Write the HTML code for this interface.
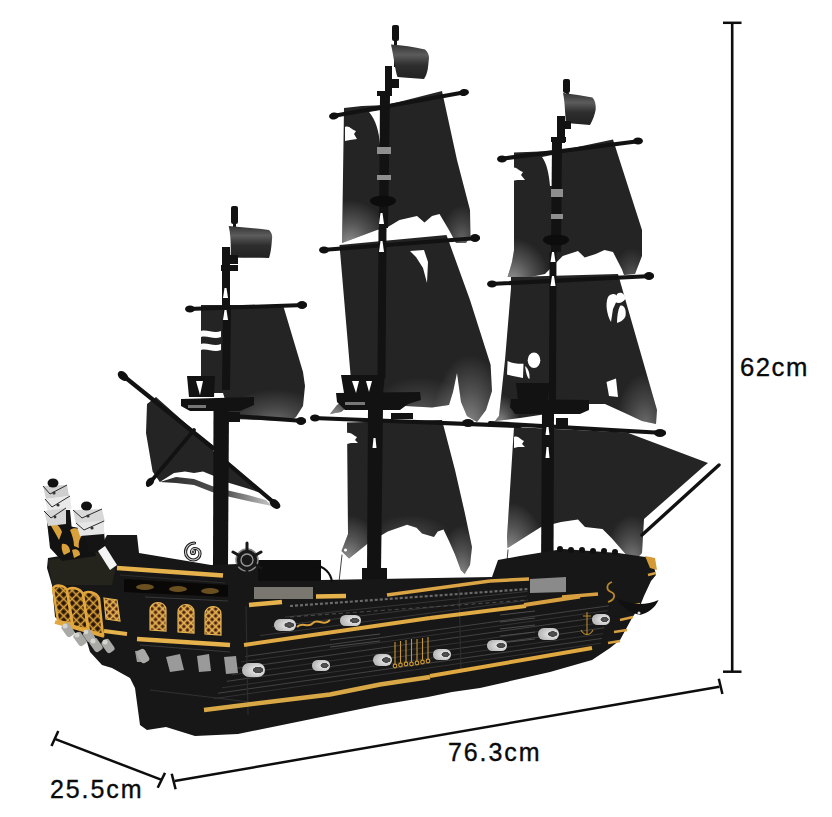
<!DOCTYPE html>
<html><head><meta charset="utf-8">
<style>
html,body{margin:0;padding:0;background:#fff;}
body{width:832px;height:817px;overflow:hidden;position:relative;}
svg{position:absolute;left:0;top:0;}
.t{position:absolute;font-family:"Liberation Sans",sans-serif;color:#0a0a0a;font-size:25px;letter-spacing:1.9px;white-space:nowrap;line-height:1;-webkit-text-stroke:0.35px #0a0a0a;}
</style></head>
<body>
<svg width="832" height="817" viewBox="0 0 832 817">
<defs>
<linearGradient id="gV" x1="0" y1="0" x2="0" y2="1">
<stop offset="0" stop-color="#fff" stop-opacity="0"/><stop offset="0.5" stop-color="#fff" stop-opacity="0.1"/><stop offset="1" stop-color="#fff" stop-opacity="0.42"/>
</linearGradient>
<radialGradient id="gR" cx="0.5" cy="0.5" r="0.5">
<stop offset="0" stop-color="#fff" stop-opacity="0.5"/><stop offset="0.5" stop-color="#fff" stop-opacity="0.22"/><stop offset="1" stop-color="#fff" stop-opacity="0"/>
</radialGradient>
<linearGradient id="gFlag" x1="0" y1="0" x2="0" y2="1">
<stop offset="0" stop-color="#333"/><stop offset="0.3" stop-color="#5c5c5c"/><stop offset="0.6" stop-color="#2e2e2e"/><stop offset="1" stop-color="#222"/>
</linearGradient>
<linearGradient id="gFoot" x1="0" y1="0" x2="1" y2="0">
<stop offset="0" stop-color="#2a2a2a"/><stop offset="0.6" stop-color="#555"/><stop offset="1" stop-color="#c8c8c8"/>
</linearGradient>
<linearGradient id="gGold" x1="0" y1="0" x2="0" y2="1">
<stop offset="0" stop-color="#f3c56a"/><stop offset="1" stop-color="#c98f2a"/>
</linearGradient>
<radialGradient id="gCan" cx="0.7" cy="0.5" r="0.6">
<stop offset="0" stop-color="#555"/><stop offset="0.35" stop-color="#444"/><stop offset="0.4" stop-color="#ddd"/><stop offset="1" stop-color="#bcbcbc"/>
</radialGradient>
<pattern id="lat" width="5" height="5" patternUnits="userSpaceOnUse" patternTransform="rotate(45)">
<rect width="5" height="5" fill="#e7b550"/><rect x="1.4" y="1.4" width="3.2" height="3.2" fill="#4a1e10"/>
</pattern>
<pattern id="lat2" width="6" height="6" patternUnits="userSpaceOnUse" patternTransform="rotate(45)">
<rect width="6" height="6" fill="#d9a13a"/><rect x="1.3" y="1.3" width="4.4" height="4.4" fill="#2a1608"/>
</pattern>
</defs>
<!-- ===== SAILS ===== -->
<defs>
<clipPath id="cB1"><path id="pB1" d="M344,108 L362,106 L387,105 L442,91 L457,160 L470,210 L470.5,236 L466,243 L456,243 L449,230 L439.5,214 L432,216 L424.5,222.5 L417,216 L399.5,220 L387,227.5 L377,230 L342,243 Z"/></clipPath>
<clipPath id="cB2"><path id="pB2" d="M339.5,245 L446.5,235 L470,300 L490.6,364.7 L492,391 L486,410 L477,422 L467,416 L461,402 L457,373 L453,392 L449,405 L432,407.5 L387,405 L350,405 L341,412 L330,414 L337,405 L350,397 L352,392 Z"/></clipPath>
<clipPath id="cB3"><path id="pB3" d="M347,422.5 L442,420 L455,470 L464.6,512 L472,547 L470,565 L464.6,574 L460.8,570 L455,554.6 L449,541 L443.5,529.6 L437.7,531.5 L434,537 L422,533.5 L416.5,527.7 L407,524.8 L387.7,531.5 L368.5,543 L349,558.5 L341.5,551 L348,534 Z"/></clipPath>
<clipPath id="cC1"><path id="pC1" d="M514,152.6 L540,151.5 L556,151.5 L613,139.4 L642,230 L642,256 L635,274 L624,275 L622,269.6 L613,252 L604.5,250 L595.7,254 L584.7,257.5 L578,251 L562.7,256 L545,274 L530,277 L507.6,277 L512,262 L514,250 Z"/></clipPath>
<clipPath id="cC2"><path id="pC2" d="M511,277 L618,274 L657,410 L656,424 L642,421 L627,414 L605,404 L585,404 L560,412 L520,418 L504,420 L495,421 L499,416 L505,360 L511,288 Z"/></clipPath>
<clipPath id="cC3"><path id="pC3" d="M514,427 L627,432.6 L708,463 L703,467 L644,519 L642,553 L633,562.5 L611.5,538 L602.5,529 L585,527 L578,519.5 L561,522 L541,527 L507.5,548 L507,537 Z"/></clipPath>
<clipPath id="cA1"><path id="pA1" d="M201,305 L283,305 L303,372 L305,386 L303,406 L296,417 L290,421 L231,419 L223,393 L201,393 Z"/></clipPath>
</defs>
<g fill="#242424">
<path d="M344,108 L362,106 L387,105 L442,91 L457,160 L470,210 L470.5,236 L466,243 L456,243 L449,230 L439.5,214 L432,216 L424.5,222.5 L417,216 L399.5,220 L387,227.5 L377,230 L342,243 Z"/><path d="M339.5,245 L446.5,235 L470,300 L490.6,364.7 L492,391 L486,410 L477,422 L467,416 L461,402 L457,373 L453,392 L449,405 L432,407.5 L387,405 L350,405 L341,412 L330,414 L337,405 L350,397 L352,392 Z"/><path d="M347,422.5 L442,420 L455,470 L464.6,512 L472,547 L470,565 L464.6,574 L460.8,570 L455,554.6 L449,541 L443.5,529.6 L437.7,531.5 L434,537 L422,533.5 L416.5,527.7 L407,524.8 L387.7,531.5 L368.5,543 L349,558.5 L341.5,551 L348,534 Z"/>
<path d="M514,152.6 L540,151.5 L556,151.5 L613,139.4 L642,230 L642,256 L635,274 L624,275 L622,269.6 L613,252 L604.5,250 L595.7,254 L584.7,257.5 L578,251 L562.7,256 L545,274 L530,277 L507.6,277 L512,262 L514,250 Z"/><path d="M511,277 L618,274 L657,410 L656,424 L642,421 L627,414 L605,404 L585,404 L560,412 L520,418 L504,420 L495,421 L499,416 L505,360 L511,288 Z"/><path d="M514,427 L627,432.6 L708,463 L703,467 L644,519 L642,553 L633,562.5 L611.5,538 L602.5,529 L585,527 L578,519.5 L561,522 L541,527 L507.5,548 L507,537 Z"/>
<path d="M201,305 L283,305 L303,372 L305,386 L303,406 L296,417 L290,421 L231,419 L223,393 L201,393 Z"/>
<!-- spanker body -->
<path d="M156,397 L147,404 L146,433 L152.6,471.5 L159.8,482 L174,473 L185,471.5 L194,473 L203,471.5 L214,476 L214,452 L211,446 Z"/>
<path d="M226,462 L264,494 L246,488 L226,482 Z"/>
</g>
<!-- spanker foot -->
<path fill="url(#gFoot)" d="M159.8,482 L176,477 L194,479 L212,486 L226,490 L248,495 L266,500 L272,506 L248,501 L226,496 L212,492 L194,485 L176,483 Z"/>
<!-- sail highlights -->
<g clip-path="url(#cB1)">
<ellipse fill="url(#gR)" cx="350" cy="245" rx="40" ry="45"/>
<ellipse fill="url(#gR)" cx="462" cy="240" rx="22" ry="35" opacity="0.6"/>
</g>
<g clip-path="url(#cB2)">
<ellipse fill="url(#gR)" cx="470" cy="425" rx="38" ry="70" opacity="0.9"/>
<ellipse fill="url(#gR)" cx="335" cy="415" rx="25" ry="25"/>
<ellipse fill="url(#gR)" cx="420" cy="412" rx="50" ry="35" opacity="0.45"/>
</g>
<g clip-path="url(#cB3)">
<ellipse fill="url(#gR)" cx="348" cy="560" rx="35" ry="45"/>
<ellipse fill="url(#gR)" cx="462" cy="575" rx="25" ry="50" opacity="0.9"/>
<ellipse fill="url(#gR)" cx="410" cy="535" rx="40" ry="20" opacity="0.35"/>
</g>
<g clip-path="url(#cC1)">
<ellipse fill="url(#gR)" cx="512" cy="280" rx="38" ry="42"/>
<ellipse fill="url(#gR)" cx="632" cy="278" rx="20" ry="30" opacity="0.5"/>
</g>
<g clip-path="url(#cC2)">
<ellipse fill="url(#gR)" cx="500" cy="424" rx="20" ry="30"/>
<ellipse fill="url(#gR)" cx="645" cy="428" rx="30" ry="55" opacity="0.7"/>
</g>
<g clip-path="url(#cC3)">
<ellipse fill="url(#gR)" cx="510" cy="552" rx="35" ry="50"/>
<ellipse fill="url(#gR)" cx="632" cy="565" rx="28" ry="50" opacity="0.9"/>
</g>
<g clip-path="url(#cA1)">
<ellipse fill="url(#gR)" cx="275" cy="425" rx="55" ry="36" opacity="0.7"/>
</g>

<!-- white cutouts on sails -->
<g fill="#fff">
<path d="M369,112 L381,110 L381,144 L380,144 C379,132 376,120 369,112 Z"/>
<path d="M542,157 L552,155 L552,186 L550,186 C549,174 547,164 542,157 Z"/>
<path d="M345,127 C349,125 352,130 356,131 L354,134 L357,139 L350,140 L345,141 Z"/>
<path d="M410,251 L424,250 L428,262 L427,283 L423,268 L416,257 Z"/>
<path d="M347,433 C351,432 354,436 357,437 L355,440 L358,443 L351,443 L347,444 Z"/>
<circle cx="345.5" cy="550" r="1.6"/>
<path d="M514,437 C518,435 521,440 524,441 L522,444 L525,447 L518,447 L514,448 Z"/>
<path d="M512,168 C516,166 519,171 523,172 L521,175 L525,180 L517,180 L512,181 Z"/>
<!-- skull mark on C2 -->
<path d="M608,297 C612,292 617,294 618,298 L613,309 L611,322 C607,315 605,304 608,297 Z"/>
<path d="M617,294 C621,291 625,294 625.5,299 C622,303 619,304 615,302 Z"/>
<path d="M620,306 C624,304 626.5,310 625.5,316 C624,320 620,322 617,323 C617,316 618,310 620,306 Z"/>
<ellipse cx="534" cy="360.3" rx="6.3" ry="7.7"/>
<path d="M507.6,361 C512,363 518,364 523.5,363.8 L523,378 C518,377 512,376 507,374.6 Z"/>
<path d="M525,366 C528,368 530,373 529.5,379 C527,378 526,372 525,366 Z"/>
<path d="M606.5,382 L616,378.5 L618,397 L609,396 Z"/>
<!-- A1 white bands -->
<path d="M201,331 C207,329 214,334 221,331 L221,337 C214,340 207,335 201,337 Z"/>
<path d="M201,344 C207,342 214,347 221,344 L221,350 C214,353 207,348 201,350 Z"/>
<!-- white between B1 body and mast at yard 2 -->

</g>

<!-- ===== YARDS ===== -->
<g stroke="#121212" stroke-linecap="round" fill="none">
<line x1="333" y1="116" x2="466" y2="92" stroke-width="4.2"/>
<line x1="322" y1="250" x2="478" y2="238" stroke-width="4.2"/>
<line x1="313" y1="418" x2="520" y2="426" stroke-width="4.2"/>
<line x1="500" y1="159" x2="640" y2="141" stroke-width="4.2"/>
<line x1="490" y1="284" x2="652" y2="276" stroke-width="4.2"/>
<line x1="490" y1="423" x2="664" y2="433" stroke-width="4.2"/>
<line x1="188" y1="309" x2="305" y2="305" stroke-width="4.2"/>
<line x1="233" y1="416" x2="304" y2="421" stroke-width="4.2"/>
<line x1="121" y1="374" x2="213" y2="448" stroke-width="4.2"/>
<line x1="226" y1="462" x2="278" y2="506" stroke-width="4.2"/>
<line x1="148" y1="485" x2="194" y2="430" stroke-width="3.8"/>
<line x1="642" y1="535" x2="719" y2="465" stroke-width="3.4"/>
<path d="M342,555 L339,582" stroke-width="0.8"/>
<path d="M508,550 L506,572" stroke-width="0.8"/>
</g>

<!-- yard knobs -->
<g fill="#101010">
<ellipse cx="334" cy="116" rx="5" ry="3.5" transform="rotate(-10 334 116)"/>
<ellipse cx="464" cy="92.5" rx="5" ry="3.5" transform="rotate(-10 464 92.5)"/>
<ellipse cx="324" cy="250" rx="5" ry="3.5"/>
<ellipse cx="475" cy="238" rx="5" ry="4"/>
<ellipse cx="315" cy="418" rx="5" ry="3.5"/>
<ellipse cx="468" cy="423" rx="6" ry="4"/>
<ellipse cx="502" cy="159" rx="5" ry="3.5"/>
<ellipse cx="638" cy="141" rx="5" ry="3.5"/>
<ellipse cx="492" cy="284" rx="5" ry="3.5"/>
<ellipse cx="649" cy="276" rx="5" ry="4"/>
<ellipse cx="660" cy="433" rx="6" ry="4"/>
<ellipse cx="190" cy="309" rx="5" ry="3.5"/>
<ellipse cx="302" cy="305" rx="5" ry="4"/>
<ellipse cx="301" cy="421" rx="5" ry="4"/>
<ellipse cx="123" cy="376" rx="4" ry="6" transform="rotate(-50 123 376)"/>
<ellipse cx="275" cy="504" rx="4" ry="6" transform="rotate(-50 275 504)"/>
<ellipse cx="150" cy="482" rx="3.5" ry="5" transform="rotate(40 150 482)"/>
</g>
<!-- ===== MASTS ===== -->
<g fill="#121212">
<!-- mast B -->
<rect x="392" y="25" width="7" height="16" rx="2"/>
<rect x="394" y="41" width="3" height="26"/>
<rect x="385" y="66" width="7" height="27"/>
<rect x="377" y="91" width="15" height="5"/>
<path d="M380,96 L390,96 L388,228 L379,228 Z"/>
<path d="M378.5,228 L386.5,228 L385.5,378 L377.5,378 Z"/>
<path d="M368,408 L383,408 L381,572 L367,572 Z"/>
<rect x="362" y="568" width="25" height="18"/>
<!-- mast C -->
<rect x="563" y="79" width="7" height="14" rx="2"/>
<rect x="566" y="93" width="3" height="24"/>
<rect x="557" y="116" width="8" height="27"/>
<rect x="551" y="137" width="15" height="5"/>
<path d="M552,142 L562,142 L561,252 L551,252 Z"/>
<path d="M549.5,252 L556.5,252 L556,400 L549,400 Z"/>
<path d="M542,412 L554,412 L553.5,569 L541,569 Z"/>
<!-- mast A -->
<rect x="231" y="206" width="7" height="18" rx="2"/>
<rect x="233" y="224" width="3" height="24"/>
<rect x="222" y="247" width="8" height="60"/>
<rect x="221" y="265" width="17" height="6"/>
<path d="M223,305 L231,305 L230,390 L222,390 Z"/>
<path d="M213.5,410 L229,410 L228,566 L213,566 Z"/>
</g>
<g fill="#fff">
<path d="M380.5,213 L382.5,213 L384,224 L379,224 Z"/>
<path d="M380.5,241 L382.5,241 L384,252 L379,252 Z"/>
<path d="M552,252 L554,252 L555.5,262 L550.5,262 Z"/>
<path d="M552,276 L554,276 L555.5,286 L550.5,286 Z"/>
<path d="M224.5,288 L226.5,288 L228,298 L223,298 Z"/>
<path d="M546.5,447 L548.5,447 L549.5,458 L545.5,458 Z"/>
<path d="M546.5,427 L548.5,427 L549.5,435 L545.5,435 Z"/>
<path d="M373.5,438 L375.5,438 L376.5,448 L372.5,448 Z"/>
<path d="M224.5,310 L226.5,310 L228,320 L223,320 Z"/>
</g>
<!-- grey blocks on masts -->
<g fill="#8e8e8e">
<rect x="377" y="147" width="14" height="7"/>
<rect x="377" y="175" width="14" height="5"/>
<rect x="551" y="189" width="12" height="8"/>
<rect x="551" y="214" width="12" height="5"/>
</g>
<!-- mast ring details -->
<g fill="#0c0c0c">
<ellipse cx="383" cy="201" rx="13" ry="5.5"/>
<ellipse cx="556" cy="240" rx="13" ry="5.5"/>
</g>
<!-- flags -->
<path fill="url(#gFlag)" d="M391,44.5 C402,45 414,47 425,49.4 C428,52 429,55 429,58 C428.5,63 428,67 427.8,69 C427,73 426,76 424,79 C415,78.5 405,77.5 397.5,77 C395,70 394,58 391,44.5 Z"/>
<path fill="url(#gFlag)" d="M563,93 C573,94 583,96 592.4,97.5 C595,100 596,104 595.7,109.6 C595,114 593,120 590,125 C582,124.5 574,123.5 566,123 C565,114 565,102 563,93 Z"/>
<path fill="url(#gFlag)" d="M228.7,226 C242,227 256,228.5 269,230 C272,233 272.5,236 272,239 C271.5,246 271,252 269,258 C256,258 243,257.5 230.6,257.4 C231,248 231,236 228.7,226 Z"/>
<g fill="#121212">
<rect x="391" y="79" width="8" height="9"/>
<rect x="565" y="121" width="6" height="8"/>
<rect x="230" y="255" width="8" height="9"/>
</g>
<!-- fighting tops -->
<g fill="#121212">
<path d="M336,393 L420,392 L421,400 L408,404 L400,410 L345,410 L337,402 Z"/>
<path d="M341,375 L385,375 L383,393 L344,393 Z"/>
<path d="M511,399 L589,400 L589,410 L580,414 L515,414 L510,407 Z"/>
<path d="M516,383 L550,383 L548,400 L518,400 Z"/>
<path d="M181,399 L254,397 L254,405 L240,411 L190,411 L181,406 Z"/>
<path d="M187,376 L215,376 L214,397 L189,397 Z"/>
</g>
<g fill="#fff">
<path d="M352,381 L356,393 L359,381 Z"/>
<path d="M366,381 L369,392 L372,381 Z"/>
<path d="M196,381 L200,395 L203,381 Z"/>
</g>
<rect x="345" y="402" width="20" height="3" fill="#777"/>
<rect x="228" y="412" width="12" height="10" fill="#121212"/>
<rect x="391" y="413" width="22" height="6" fill="#121212"/>
<rect x="556" y="418" width="12" height="9" fill="#121212"/>
<rect x="188" y="405" width="18" height="3" fill="#777"/>
<!-- ===== HULL ===== -->
<path fill="#171717" d="M47,568 L48,558 L60,556 L100,548 L107,535 L137,535 L139,553 L211,565 L238,564 L258,560 L321,560 L321,580 L492,577 L498,560 L520,556 L563,549 L618,553 L652,558 L656,575 L651,581 L644,596 L640,606 L632,618 L620,640 L610,648 L592,660 L550,672 L480,688 L452,692 L428,697 L380,705 L238,734 L195,736 L166,727 L147,730 L140,725 L135,688 L130,678 L112,668 L102,665 L90,652 L87,642 L65,625 L55,617 L52,585 Z"/>
<!-- stern box top -->
<path fill="#24241d" d="M48,560 L100,552 L115,570 L112,585 L52,585 Z"/>
<!-- planking lines -->
<g stroke-width="0.9" fill="none">
<line x1="245.2" y1="656.5" x2="608.8" y2="605.8" stroke="#474747"/>
<line x1="241.2" y1="661.9" x2="607.8" y2="610.6" stroke="#353535"/>
<line x1="236.4" y1="668.4" x2="606.6" y2="616.3" stroke="#474747"/>
<line x1="231.6" y1="674.8" x2="605.4" y2="622.1" stroke="#353535"/>
<line x1="226.8" y1="681.3" x2="604.2" y2="627.8" stroke="#474747"/>
<line x1="222.0" y1="687.8" x2="603.0" y2="633.6" stroke="#353535"/>
<line x1="218.0" y1="693.2" x2="602.0" y2="638.4" stroke="#474747"/>
<line x1="214.0" y1="698.6" x2="601.0" y2="643.2" stroke="#353535"/>
<line x1="285.0" y1="617.1" x2="527.4" y2="591.4" stroke="#3a3a3a"/>
<line x1="272.5" y1="626.4" x2="526.9" y2="595.9" stroke="#3a3a3a"/>
<line x1="260.0" y1="635.6" x2="526.4" y2="600.4" stroke="#3a3a3a"/>
<line x1="145" y1="597" x2="228" y2="601" stroke="#3c3c3c"/>
<line x1="140" y1="645" x2="230" y2="652" stroke="#3c3c3c"/>
<line x1="150" y1="690" x2="250" y2="702" stroke="#333"/>
<line x1="120" y1="575" x2="225" y2="583" stroke="#2e2e2e"/>
</g>
<g stroke="#5a5a5a" stroke-width="0.8" fill="none">
<line x1="500" y1="615" x2="535" y2="611"/>
<line x1="500" y1="622" x2="535" y2="618"/>
<line x1="500" y1="629" x2="535" y2="625"/>
<line x1="500" y1="636" x2="535" y2="632"/>
<line x1="500" y1="643" x2="535" y2="639"/>
<line x1="330" y1="640" x2="380" y2="634"/>
<line x1="330" y1="647" x2="380" y2="641"/>
</g>
<g stroke="#2c2c2c" stroke-width="1.2">
<line x1="459" y1="585" x2="461" y2="672"/>
<line x1="246" y1="606" x2="248" y2="715"/>
</g>
<!-- grey dotted band -->
<line x1="290" y1="606" x2="528" y2="589" stroke="#6a6a6a" stroke-width="2.2" stroke-dasharray="3 2"/>
<line x1="290" y1="617" x2="528" y2="600" stroke="#4a4a4a" stroke-width="1.2" stroke-dasharray="4 3"/>
<!-- grey deck planks -->
<path fill="#7a7670" d="M254,587 L313,587 L313,599 L254,599 Z"/>
<path fill="#8a8a8a" d="M530,579 L566,577 L566,592 L530,593 Z"/>
<!-- deck house -->
<path fill="#0e0e0e" d="M258,560 L321,560 L321,581 L258,581 Z"/>
<path d="M314,565 C324,566 331,573 332,582" stroke="#0e0e0e" stroke-width="2.2" fill="none"/>


<!-- gold stripes -->
<g stroke="url(#gGold)" stroke-linecap="butt" fill="none">
<line x1="117" y1="568" x2="223" y2="575.5" stroke="#e6b24c" stroke-width="4.5"/>
<line x1="137" y1="639" x2="230" y2="645" stroke="#e6b24c" stroke-width="4.5"/>
<line x1="249" y1="605" x2="282" y2="602" stroke="#e6b24c" stroke-width="4.5"/>
<line x1="316" y1="596.5" x2="346" y2="596" stroke="#e6b24c" stroke-width="4.5"/>
<line x1="387" y1="595" x2="490" y2="581" stroke="#dba546" stroke-width="3.5"/>
<line x1="490" y1="581" x2="529" y2="579" stroke="#dba546" stroke-width="3.5"/>
<line x1="244" y1="645" x2="430" y2="618" stroke="#e0aa44" stroke-width="4"/>
<line x1="430" y1="618" x2="526" y2="606" stroke="#e0aa44" stroke-width="4"/>
<line x1="524" y1="605" x2="580" y2="596.5" stroke="#d8a040" stroke-width="4"/>
<line x1="562" y1="597" x2="598" y2="594" stroke="#d8a040" stroke-width="3.5"/>
<polyline points="204,710 330,694.5 380,684.5 430,677" stroke="#d9a846" stroke-width="4.5"/>
<line x1="430" y1="676" x2="592" y2="648" stroke="#e0a840" stroke-width="4"/>
<line x1="104" y1="631" x2="127" y2="634" stroke="#e6b24c" stroke-width="4"/>
<line x1="626" y1="607" x2="640" y2="604" stroke="#d8a040" stroke-width="2.5"/>
<line x1="620" y1="620" x2="633" y2="617" stroke="#d8a040" stroke-width="2.5"/>
<line x1="614" y1="632" x2="627" y2="630" stroke="#d8a040" stroke-width="2.5"/>
<line x1="608" y1="643" x2="620" y2="641" stroke="#d8a040" stroke-width="2.5"/>
<line x1="648" y1="575" x2="656" y2="573" stroke="#d8a040" stroke-width="2.5"/>
</g>
<!-- window band -->
<path fill="#0a0806" d="M124,579 L228,585 L228,597 L124,592 Z"/>
<g fill="#6a5020">
<ellipse cx="145" cy="587" rx="9" ry="3"/>
<ellipse cx="178" cy="589" rx="9" ry="3"/>
<ellipse cx="210" cy="591" rx="9" ry="3"/>
</g>
<!-- arched windows -->
<g fill="url(#lat)" stroke="#e7b550" stroke-width="1.2">
<path d="M150,630 L150,610 C150,600 166,600 166,610 L166,631 Z"/>
<path d="M178,632 L178,612 C178,602 194,602 194,612 L194,633 Z"/>
<path d="M205,634 L205,614 C205,604 221,604 221,614 L221,635 Z"/>
<path d="M104,598 L117,600 L120,621 L106,619 Z"/>
</g>
<!-- stern windows -->
<g fill="url(#lat2)" stroke="#e2a83e" stroke-width="2.4">
<path d="M53,588 C56,584 64,585 67,590 L72,624 L58,621 Z"/>
<path d="M67,590 C70,586 80,588 83,594 L88,630 L73,626 Z"/>
<path d="M83,594 C86,590 96,592 99,598 L103,635 L89,631 Z"/>
</g>
<line x1="55" y1="622" x2="104" y2="636" stroke="#e2a83e" stroke-width="3.5"/>

<!-- grate -->
<g stroke="#c9962e" stroke-width="1.1">
<line x1="395" y1="642" x2="395" y2="664"/>
<line x1="400.5" y1="641" x2="400.5" y2="663"/>
<line x1="406" y1="640" x2="406" y2="662"/>
<line x1="411.5" y1="639" x2="411.5" y2="662"/>
<line x1="417" y1="639" x2="417" y2="661"/>
<line x1="422.5" y1="638" x2="422.5" y2="660"/>
<line x1="428" y1="637" x2="428" y2="659"/>
</g>
<g fill="none" stroke="#c9962e" stroke-width="1.2">
<circle cx="395" cy="666" r="1.8"/><circle cx="400.5" cy="665" r="1.8"/><circle cx="406" cy="664" r="1.8"/>
<circle cx="411.5" cy="664" r="1.8"/><circle cx="417" cy="663" r="1.8"/><circle cx="422.5" cy="662" r="1.8"/><circle cx="428" cy="661" r="1.8"/>
</g>
<!-- anchor on bow -->
<g stroke="#b8892a" stroke-width="1.1" fill="none">
<path d="M587,612 L587,634 M581,630 C584,636 590,636 593,630 M583,616 L591,616"/>
<path d="M612,582 C606,584 606,590 611,592 C616,594 615,600 608,602" stroke-width="1.8"/>
</g>

<path d="M297,627 C302,621 308,629 313,623 C318,618 323,627 330,620" stroke="#d9a13c" stroke-width="2" fill="none"/>
<!-- cannons -->
<g>
<rect x="340" y="615" width="21" height="11" rx="5.5" fill="url(#gCan)"/>
<rect x="274" y="619" width="22" height="12" rx="6" fill="url(#gCan)"/>
<rect x="312" y="660" width="18" height="11" rx="5.5" fill="url(#gCan)"/>
<rect x="373" y="654" width="19" height="12" rx="6" fill="url(#gCan)"/>
<rect x="433" y="649" width="18" height="11" rx="5.5" fill="url(#gCan)"/>
<rect x="487" y="640" width="20" height="11" rx="5.5" fill="url(#gCan)"/>
<rect x="538" y="628" width="21" height="12" rx="6" fill="url(#gCan)"/>
<rect x="592" y="614" width="18" height="11" rx="5.5" fill="url(#gCan)"/>
<rect x="242" y="663" width="23" height="14" rx="7" fill="url(#gCan)"/>
</g>
<g fill="#9a9a9a">
<path d="M166,657 L180,654 L184,670 L170,672 Z"/>
<path d="M197,656 L209,654 L211,671 L199,672 Z"/>
<path d="M224,657 L236,656 L238,673 L226,674 Z"/>
<path d="M135,651 L145,650 L147,662 L137,662 Z"/>
</g>
<g fill="#a9aaa6">
<rect x="-7" y="-4.5" width="14" height="9" rx="3" transform="translate(68,630) rotate(55)"/>
<rect x="-7" y="-4.5" width="14" height="9" rx="3" transform="translate(80,639) rotate(55)"/>
<rect x="-6" y="-4.5" width="12" height="9" rx="3" transform="translate(89,636) rotate(55)"/>
<rect x="-7" y="-4.5" width="14" height="9" rx="3" transform="translate(96,645) rotate(55)"/>
<rect x="-7" y="-4.5" width="14" height="9" rx="3" transform="translate(108,646) rotate(55)"/>
<rect x="-7" y="-4.5" width="14" height="9" rx="3" transform="translate(143,656) rotate(60)"/>
</g>
<g fill="#d4d4d0">
<circle cx="65" cy="626" r="2.5"/><circle cx="77" cy="635" r="2.5"/><circle cx="86" cy="632" r="2.3"/><circle cx="93" cy="641" r="2.5"/><circle cx="105" cy="642" r="2.5"/>
</g>

<!-- stern ornament & lanterns -->
<path fill="#141414" d="M58,510 L70,510 L72,531 L60,531 Z"/>
<path fill="#121212" d="M47,522 L90,530 L96,556 L62,561 L50,548 Z"/>
<path fill="#141414" d="M84,532 L104,532 L106,552 L88,552 Z"/>
<g fill="#d9a13c">
<path d="M49,522 C54,521 60,526 62,532 L59,540 C56,534 52,528 49,522 Z"/>
<path d="M70,530 C74,527 80,528 83,534 C80,538 78,542 79,548 L74,546 C74,540 72,535 70,530 Z"/>
<path d="M62,544 C66,543 70,546 70,552 L64,555 C62,551 61,548 62,544 Z"/>
<path d="M72,550 C76,548 80,550 80,555 L74,558 Z"/>
</g>
<!-- lantern 1 -->
<g>
<path fill="#cfcfcf" d="M43,486 L67,485 L69,496 L46,499 Z"/>
<path fill="#e9e9e9" d="M45,499 L70,496 L71.5,509 L48,512 Z"/>
<path fill="#d6d6d6" d="M44,511 L66,508 L66,524 L48,526 Z"/>
<g stroke="#2a2a2a" stroke-width="1" fill="none">
<path d="M43,486 L50,494 L67,485 M45,499 L52,507 L70,496 M44,511 L51,518 L66,508"/>
</g>
<g fill="#333"><circle cx="54" cy="493" r="1.6"/><circle cx="58" cy="505" r="1.6"/><circle cx="55" cy="517" r="1.4"/></g>
<ellipse cx="53" cy="483" rx="5.5" ry="4.5" fill="#111"/>
</g>
<!-- lantern 2 -->
<g>
<path fill="#d8d8d8" d="M73,510 L102,509 L105,522 L76,524 Z"/>
<path fill="#e6e6e6" d="M76,523 L104,521 L104,534 L80,536 Z"/>
<g stroke="#2e2e2e" stroke-width="1" fill="none">
<path d="M73,510 L82,518 L102,509 M76,523 L84,530 L104,521"/>
</g>
<g fill="#333"><circle cx="88" cy="516" r="1.6"/><circle cx="92" cy="528" r="1.6"/></g>
<ellipse cx="86.5" cy="506" rx="5.5" ry="4.5" fill="#111"/>
</g>
<path fill="#f4f4f4" d="M98,551 L105,546 L117,565 L110,570 Z"/>
<!-- spiral & wheel -->
<g fill="none" stroke-linecap="round">
<path d="M193,552 m0,-1.5 a1.5,1.5 0 1,1 -1.5,1.5 a3.5,3.5 0 0,1 3.5,-3.5 a5,5 0 0,1 5,5 a6.5,6.5 0 0,1 -6.5,6.5 a8,8 0 0,1 -8,-8 a9,9 0 0,1 9,-9" stroke="#1a1a1a" stroke-width="3.2"/>
<path d="M193,552 m0,-1.5 a1.5,1.5 0 1,1 -1.5,1.5 a3.5,3.5 0 0,1 3.5,-3.5 a5,5 0 0,1 5,5 a6.5,6.5 0 0,1 -6.5,6.5 a8,8 0 0,1 -8,-8 a9,9 0 0,1 9,-9" stroke="#cfcfcf" stroke-width="1.2"/>
</g>
<g>
<circle cx="247" cy="560" r="11" fill="#1a1a1a" stroke="#8a8a8a" stroke-width="1.5"/>
<g stroke="#181818" stroke-width="3" stroke-linecap="round">
<line x1="247" y1="543" x2="247" y2="577"/><line x1="233" y1="552" x2="261" y2="568"/><line x1="233" y1="568" x2="261" y2="552"/>
</g>
<circle cx="247" cy="560" r="6" fill="none" stroke="#9a9a9a" stroke-width="1.3"/>
</g>
<path fill="#d39a36" d="M645,556 L655,558 L657,570 L650,568 Z"/>
<!-- bow hook -->
<path fill="#101010" d="M616,598 C630,605 645,606 658.6,600 C655,608 648,613 640,615 C630,613 622,607 616,598 Z"/>
<circle cx="639" cy="613" r="1.5" fill="#ddd"/>
<!-- studs on deck -->
<g fill="#0f0f0f">
<circle cx="560" cy="549" r="3"/><circle cx="571" cy="550" r="3"/><circle cx="582" cy="550" r="3"/><circle cx="593" cy="551" r="3"/><circle cx="604" cy="551" r="3"/><circle cx="615" cy="552" r="3"/>
</g>
<!-- ===== DIMENSIONS ===== -->
<g stroke="#0d0d0d" fill="none" stroke-linecap="butt">
<line x1="732.2" y1="23" x2="732.2" y2="672" stroke-width="2.6"/>
<line x1="723" y1="22.8" x2="741.5" y2="22.8" stroke-width="2.5"/>
<line x1="723" y1="671.7" x2="741.5" y2="671.7" stroke-width="2.5"/>
<line x1="174.6" y1="781" x2="719.4" y2="686.7" stroke-width="2.5"/>
<line x1="718.8" y1="678.8" x2="722.4" y2="694" stroke-width="2.5"/>
<line x1="171.7" y1="773.8" x2="175.6" y2="789.2" stroke-width="2.5"/>
<line x1="55.4" y1="739.2" x2="161" y2="779.6" stroke-width="2.5"/>
<line x1="51.5" y1="746" x2="58.3" y2="731" stroke-width="2.5"/>
<line x1="157.7" y1="787.7" x2="165" y2="772.9" stroke-width="2.5"/>
</g>
</svg>
<div class="t" style="left:740px;top:354.5px;font-size:25.7px;letter-spacing:1.5px;">62cm</div>
<div class="t" style="left:448px;top:740.3px;">76.3cm</div>
<div class="t" style="left:50px;top:777.3px;">25.5cm</div>
</body></html>
